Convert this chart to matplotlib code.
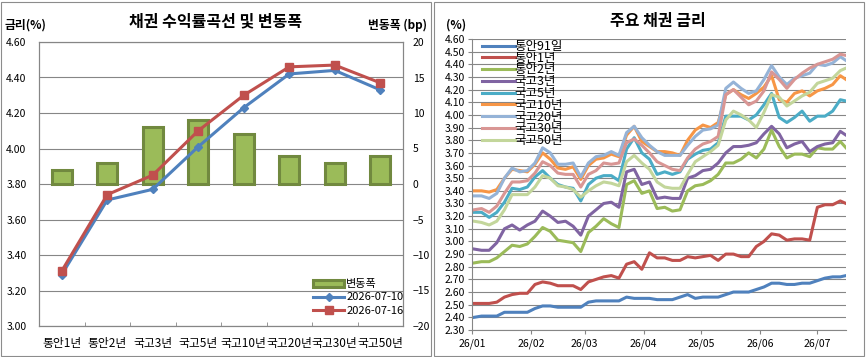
import numpy as np
import pandas as pd
import matplotlib
matplotlib.use('Agg')
import matplotlib.pyplot as plt
import matplotlib.dates as mdates
from matplotlib.patches import Rectangle

plt.rcParams['font.family'] = ['Noto Sans CJK KR', 'DejaVu Sans']

# ---- left chart: yield curve ----
tenors = ['통안1년', '통안2년', '국고3년', '국고5년', '국고10년', '국고20년', '국고30년', '국고50년']
curve_0710 = [3.29, 3.71, 3.77, 4.01, 4.23, 4.42, 4.44, 4.33]
curve_0716 = [3.31, 3.74, 3.85, 4.10, 4.30, 4.46, 4.47, 4.37]
change_bp = [2, 3, 8, 9, 7, 4, 3, 4]

# ---- right chart: bond yields ----
dates = list(pd.date_range('2026-01-02', '2026-07-13', freq='4D')) + [pd.Timestamp('2026-07-16')]

msb91d = [2.40, 2.41, 2.41, 2.41, 2.44, 2.44, 2.44, 2.44, 2.47, 2.49,
          2.49, 2.48, 2.48, 2.48, 2.48, 2.52, 2.53, 2.53, 2.53, 2.53,
          2.56, 2.55, 2.55, 2.55, 2.54, 2.54, 2.54, 2.56, 2.58, 2.55,
          2.56, 2.56, 2.56, 2.58, 2.60, 2.60, 2.60, 2.62, 2.64, 2.67,
          2.67, 2.66, 2.66, 2.67, 2.67, 2.69, 2.71, 2.72, 2.72, 2.73]
msb1y = [2.51, 2.51, 2.51, 2.52, 2.56, 2.58, 2.59, 2.59, 2.66, 2.68,
         2.67, 2.65, 2.65, 2.65, 2.62, 2.68, 2.70, 2.72, 2.73, 2.71,
         2.82, 2.84, 2.78, 2.91, 2.87, 2.87, 2.85, 2.85, 2.88, 2.87,
         2.88, 2.89, 2.85, 2.90, 2.90, 2.88, 2.88, 2.96, 3.00, 3.06,
         3.05, 3.01, 3.02, 3.02, 3.01, 3.27, 3.29, 3.29, 3.32, 3.30]
msb2y = [2.83, 2.84, 2.84, 2.87, 2.92, 2.97, 2.96, 2.98, 3.04, 3.11,
         3.08, 3.01, 3.00, 2.99, 2.92, 3.07, 3.12, 3.18, 3.14, 3.11,
         3.45, 3.48, 3.38, 3.40, 3.26, 3.27, 3.24, 3.25, 3.40, 3.44,
         3.45, 3.48, 3.53, 3.62, 3.62, 3.65, 3.70, 3.66, 3.73, 3.88,
         3.75, 3.66, 3.69, 3.69, 3.67, 3.74, 3.73, 3.73, 3.79, 3.74]
ktb3y = [2.94, 2.93, 2.93, 2.99, 3.10, 3.13, 3.09, 3.13, 3.16, 3.24,
         3.20, 3.15, 3.16, 3.12, 3.05, 3.20, 3.25, 3.30, 3.31, 3.27,
         3.55, 3.57, 3.45, 3.47, 3.34, 3.35, 3.34, 3.34, 3.50, 3.52,
         3.56, 3.57, 3.62, 3.70, 3.75, 3.75, 3.76, 3.78, 3.85, 3.91,
         3.85, 3.74, 3.77, 3.79, 3.71, 3.75, 3.77, 3.78, 3.87, 3.84]
ktb5y = [3.23, 3.23, 3.19, 3.23, 3.31, 3.42, 3.41, 3.43, 3.51, 3.56,
         3.50, 3.45, 3.43, 3.42, 3.32, 3.45, 3.50, 3.52, 3.52, 3.48,
         3.73, 3.82, 3.70, 3.65, 3.53, 3.55, 3.53, 3.55, 3.65, 3.69,
         3.72, 3.73, 3.78, 3.99, 3.99, 3.99, 3.96, 4.00, 4.08, 4.17,
         3.98, 3.94, 3.98, 4.03, 3.95, 3.99, 3.99, 4.03, 4.12, 4.11]
ktb10y = [3.40, 3.40, 3.39, 3.41, 3.50, 3.57, 3.56, 3.55, 3.61, 3.70,
          3.65, 3.58, 3.57, 3.59, 3.49, 3.60, 3.65, 3.66, 3.69, 3.67,
          3.84, 3.91, 3.79, 3.75, 3.71, 3.71, 3.70, 3.68, 3.80, 3.88,
          3.92, 3.90, 3.94, 4.16, 4.20, 4.16, 4.13, 4.17, 4.22, 4.31,
          4.12, 4.10, 4.17, 4.19, 4.15, 4.19, 4.21, 4.24, 4.31, 4.28]
ktb20y = [3.36, 3.36, 3.34, 3.38, 3.50, 3.58, 3.55, 3.56, 3.62, 3.74,
          3.70, 3.61, 3.61, 3.62, 3.51, 3.62, 3.67, 3.68, 3.71, 3.68,
          3.86, 3.91, 3.82, 3.76, 3.71, 3.68, 3.68, 3.68, 3.76, 3.83,
          3.88, 3.89, 3.92, 4.21, 4.26, 4.21, 4.17, 4.19, 4.28, 4.39,
          4.30, 4.24, 4.29, 4.31, 4.33, 4.40, 4.39, 4.41, 4.46, 4.43]
ktb30y = [3.25, 3.26, 3.23, 3.28, 3.38, 3.47, 3.47, 3.48, 3.54, 3.63,
          3.60, 3.54, 3.53, 3.53, 3.43, 3.53, 3.56, 3.62, 3.61, 3.62,
          3.78, 3.81, 3.76, 3.70, 3.63, 3.60, 3.57, 3.56, 3.66, 3.73,
          3.77, 3.79, 3.83, 4.16, 4.20, 4.14, 4.08, 4.11, 4.19, 4.34,
          4.28, 4.21, 4.28, 4.33, 4.37, 4.40, 4.42, 4.44, 4.48, 4.47]
ktb50y = [3.16, 3.15, 3.13, 3.16, 3.25, 3.37, 3.37, 3.37, 3.43, 3.52,
          3.50, 3.44, 3.43, 3.41, 3.35, 3.40, 3.44, 3.47, 3.46, 3.44,
          3.63, 3.68, 3.62, 3.57, 3.47, 3.43, 3.42, 3.42, 3.53, 3.63,
          3.67, 3.71, 3.76, 3.96, 4.03, 4.00, 3.96, 3.90, 4.02, 4.16,
          4.14, 4.07, 4.11, 4.15, 4.18, 4.25, 4.27, 4.29, 4.35, 4.37]

series_names = ['통안91일', '통안1년', '통안2년', '국고3년', '국고5년', '국고10년', '국고20년', '국고30년', '국고50년']
series_vals = [msb91d, msb1y, msb2y, ktb3y, ktb5y, ktb10y, ktb20y, ktb30y, ktb50y]
series_cols = ['#4F81BD', '#C0504D', '#9BBB59', '#8064A2', '#4BACC6',
               '#F79646', '#95B3D7', '#D99694', '#C3D69B']

W, H = 866, 357
fig = plt.figure(figsize=(W / 100, H / 100), dpi=100)
grid_c = '#868686'

# panel frames
fig.add_artist(Rectangle((1 / W, 1 / H), 430 / W, 354 / H, transform=fig.transFigure,
                         fill=False, ec='#8c8c8c', lw=0.8))
fig.add_artist(Rectangle((434 / W, 1 / H), 430 / W, 354 / H, transform=fig.transFigure,
                         fill=False, ec='#8c8c8c', lw=0.8))

# ---------------- left chart ----------------
rect = [39 / W, 1 - 326 / H, 364 / W, 284 / H]
axb = fig.add_axes(rect)          # bars, right scale (drawn below)
ax = fig.add_axes(rect)           # lines, left scale (drawn on top)
ax.patch.set_visible(False)
x = np.arange(len(tenors))

axb.bar(x, change_bp, width=0.44, color='#9BBB59', edgecolor='#71893F', lw=2.2,
        label='변동폭', zorder=3)
axb.set_ylim(-20, 20)
axb.set_yticks(np.arange(-20, 21, 5))
axb.yaxis.tick_right()
axb.grid(axis='y', color=grid_c, lw=0.8)
axb.set_axisbelow(True)
axb.set_xlim(-0.5, len(tenors) - 0.5)
axb.set_xticks([])
axb.tick_params(axis='y', length=0, labelsize=7.5, pad=7)

ax.plot(x, curve_0710, color='#4F81BD', lw=2.2, marker='D', ms=4, label='2026-07-10', zorder=4)
ax.plot(x, curve_0716, color='#C0504D', lw=2.2, marker='s', ms=6, label='2026-07-16', zorder=5)
ax.set_ylim(3.0, 4.6)
ax.set_yticks(np.arange(3.0, 4.61, 0.2))
ax.set_yticklabels(['%.2f' % v for v in np.arange(3.0, 4.61, 0.2)])
ax.set_xlim(-0.5, len(tenors) - 0.5)
ax.set_xticks(x)
ax.set_xticklabels(tenors)
ax.set_xticks(np.arange(0.5, len(tenors) - 1, 1), minor=True)
ax.tick_params(axis='x', which='major', length=0, labelsize=8.5, pad=8)
ax.tick_params(axis='x', which='minor', length=3, direction='in', color=grid_c)
ax.tick_params(axis='y', length=0, labelsize=7.5, pad=9)
for a in (ax, axb):
    for s in a.spines.values():
        s.set_color(grid_c)
        s.set_linewidth(0.8)

h1, l1 = axb.get_legend_handles_labels()
h2, l2 = ax.get_legend_handles_labels()
ax.legend(h1 + h2, l1 + l2, loc='upper left', bbox_to_anchor=(313 / W, 1 - 279 / H),
          bbox_transform=fig.transFigure, frameon=False, fontsize=8,
          handlelength=2.8, handleheight=0.6, handletextpad=0.2, labelspacing=0.3,
          borderpad=0, borderaxespad=0)

fig.text(216 / W, 1 - 21 / H, '채권 수익률곡선 및 변동폭', ha='center', va='center',
         fontsize=11.5, fontweight='bold')
fig.text(5 / W, 1 - 25 / H, '금리(%)', ha='left', va='center', fontsize=8.5, fontweight='bold')
fig.text(427 / W, 1 - 25 / H, '변동폭 (bp)', ha='right', va='center', fontsize=8.5, fontweight='bold')

# ---------------- right chart ----------------
ax2 = fig.add_axes([472 / W, 1 - 330 / H, 374 / W, 291 / H])
for name, vals, col in zip(series_names, series_vals, series_cols):
    ax2.plot(dates, vals, color=col, lw=2.2, label=name)
ax2.set_ylim(2.3, 4.6)
yt = np.arange(2.3, 4.61, 0.1)
ax2.set_yticks(yt)
ax2.set_yticklabels(['%.2f' % v for v in yt])
ax2.set_xlim(pd.Timestamp('2026-01-01'), pd.Timestamp('2026-07-16'))
ax2.xaxis.set_major_locator(mdates.MonthLocator())
ax2.xaxis.set_major_formatter(mdates.DateFormatter('%y/%m'))
ax2.grid(axis='y', color=grid_c, lw=0.8)
ax2.set_axisbelow(True)
ax2.tick_params(axis='y', length=3, color=grid_c, labelsize=7.5, pad=2)
ax2.tick_params(axis='x', length=3, color=grid_c, labelsize=7.5, pad=3)
for s in ['top', 'right']:
    ax2.spines[s].set_visible(False)
for s in ['left', 'bottom']:
    ax2.spines[s].set_color(grid_c)
    ax2.spines[s].set_linewidth(0.8)
ax2.legend(loc='upper left', bbox_to_anchor=(482 / W, 1 - 40 / H),
           bbox_transform=fig.transFigure, frameon=False, fontsize=9,
           handlelength=2.6, handletextpad=0.0, labelspacing=-0.1,
           borderpad=0, borderaxespad=0)

fig.text(658 / W, 1 - 21 / H, '주요 채권 금리', ha='center', va='center',
         fontsize=11.5, fontweight='bold')
fig.text(446 / W, 1 - 25 / H, '(%)', ha='left', va='center', fontsize=8.5, fontweight='bold')

fig.savefig('out.png', dpi=100)
